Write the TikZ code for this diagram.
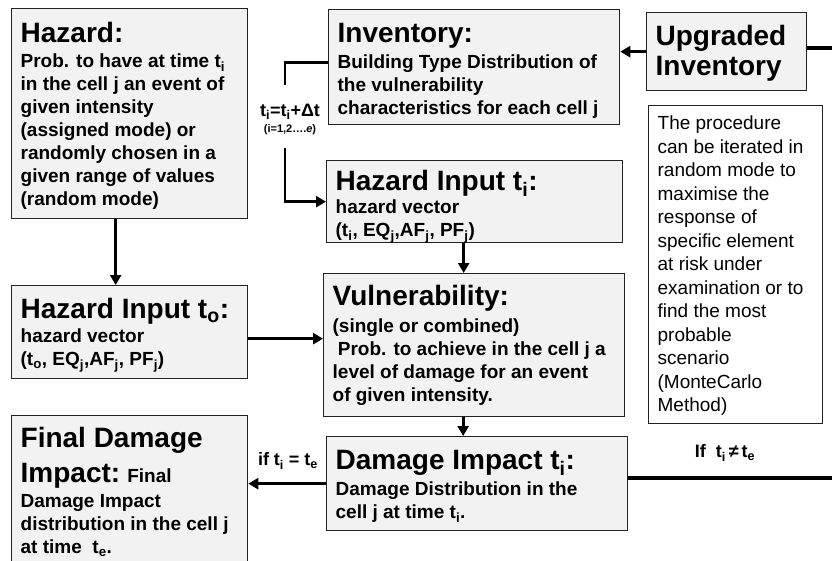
\documentclass[tikz,border=0pt]{standalone}
\usepackage{fontspec}
\setmainfont{Liberation Sans}
\usetikzlibrary{arrows.meta}
\definecolor{boxgray}{HTML}{F2F2F2}
\definecolor{edgegray}{HTML}{222222}
\newcommand{\ttl}{\fontsize{28}{30}\selectfont}
\newcommand{\bdy}{\fontsize{19}{23}\selectfont\bfseries}
\newcommand{\ssb}[1]{\textsubscript{#1}}
% name, x, y, w, h, first baseline, style, content
\newcommand{\bx}[8]{%
\node[#7, minimum width=#4pt, minimum height=#5pt] (#1) at (#2,#3)
{\begin{minipage}[t][#5pt][t]{\dimexpr #4pt-18pt\relax}\lineskiplimit=-100pt\lineskip=0pt\raggedright\rule{0pt}{#6pt}#8\end{minipage}};}
\begin{document}
\begin{tikzpicture}[x=1pt,y=-1pt,
  box/.style={draw=edgegray, line width=1.3pt, fill=boxgray, anchor=north west, inner xsep=9pt, inner ysep=0pt, font=\bdy},
  wbox/.style={box, fill=white, font=\fontsize{19}{23.5}\selectfont},
  arr/.style={line width=2.8pt, -{Triangle[length=10pt,width=11pt]}},
  conn/.style={line width=2.8pt},
  thickconn/.style={line width=4pt},
  lbl/.style={font=\fontsize{18}{20}\selectfont\bfseries, inner sep=0pt}]
\useasboundingbox (0,0) rectangle (832,560);
\clip (0,0) rectangle (832,560);
\fill[white] (0,0) rectangle (832,560);

\bx{haz}{11}{8}{236}{210}{34}{box}{{\ttl Hazard:}\\[2pt]
Prob. to have at time t\ssb{i}\\
in the cell j an event of\\
given intensity\\
(assigned mode) or\\
randomly chosen in a\\
given range of values\\
(random mode)}

\bx{inv}{328}{9}{291}{115}{33}{box}{{\ttl Inventory:}\\[3pt]
Building Type Distribution of\\
the vulnerability\\
characteristics for each cell j}

\bx{upg}{646}{12}{160}{78}{33}{box}{{\ttl Upgraded\\[7pt]Inventory}}

\bx{proc}{648}{105}{174}{318}{24}{wbox}{The procedure\\
can be iterated in\\
random mode to\\
maximise the\\
response of\\
specific element\\
at risk under\\
examination or to\\
find the most\\
probable\\
scenario\\
(MonteCarlo\\
Method)}

\bx{hit}{326}{160}{296}{82}{30}{box}{{\ttl Hazard Input t\ssb{i}:}\\[0pt]
hazard vector\\
(t\ssb{i}, EQ\ssb{j},AF\ssb{j}, PF\ssb{j})}

\bx{hio}{11}{285}{236}{93}{33}{box}{{\ttl Hazard Input t\ssb{o}:}\\[1pt]
hazard vector\\
(t\ssb{o}, EQ\ssb{j},AF\ssb{j}, PF\ssb{j})}

\bx{vul}{323}{273}{301}{143}{32}{box}{{\ttl Vulnerability:}\\[4pt]
(single or combined)\\
\ Prob. to achieve in the cell j a\\
level of damage for an event\\
of given intensity.}

\bx{dmg}{326}{436}{301}{94}{33}{box}{{\ttl Damage Impact t\ssb{i}:}\\[3pt]
Damage Distribution in the\\
cell j at time t\ssb{i}.}

\bx{fin}{11}{415}{236}{160}{32}{box}{{\ttl Final Damage}\\[12pt]
{\ttl Impact:} Final\\[2pt]
Damage Impact\\
distribution in the cell j\\
at time\ \ t\ssb{e}.}

% loop label
\node[lbl] (loopl) at (290,112) {t\ssb{i}=t\ssb{i}+Δt};
\node[font=\fontsize{11}{12}\selectfont\bfseries, inner sep=0pt] (loopr) at (290,130) {(i=1,2….\textit{e})};
\coordinate (lp1) at (285,85);
\coordinate (lp2) at (285,148);
\draw[conn] ([yshift=4.5pt]inv.west) -| (lp1);
\draw[arr] (lp2) |- (hit.west);

% main arrows
\draw[arr] ([xshift=-14pt]haz.south) -- ([xshift=-14pt]hio.north);
\draw[arr] ([yshift=-6.5pt]hio.east) -- ([yshift=-6.5pt]hio.east -| vul.west);
\draw[arr] ([xshift=-11pt]hit.south) -- ([xshift=-11pt]hit.south |- vul.north);
\draw[arr] ([xshift=-11pt]vul.south) -- ([xshift=-11pt]vul.south |- dmg.north);
\draw[arr] (dmg.west) -- (dmg.west -| fin.east);
\draw[arr] (upg.west) -- (upg.west -| inv.east);

% lines leaving to the right
\coordinate (e1) at (834,47);
\coordinate (e2) at (834,477);
\draw[thickconn] ([yshift=4pt]upg.east) -- ([yshift=4pt]upg.east -| e1);
\draw[thickconn] ([yshift=6pt]dmg.east) -- ([yshift=6pt]dmg.east -| e2);

% condition labels
\node[lbl] (ifeq) at (288,461) {if t\ssb{i} = t\ssb{e}};
\node[lbl] (ifne) at (725,453) {If\ \ t\ssb{i}\,≠\,t\ssb{e}};
\end{tikzpicture}
\end{document}
